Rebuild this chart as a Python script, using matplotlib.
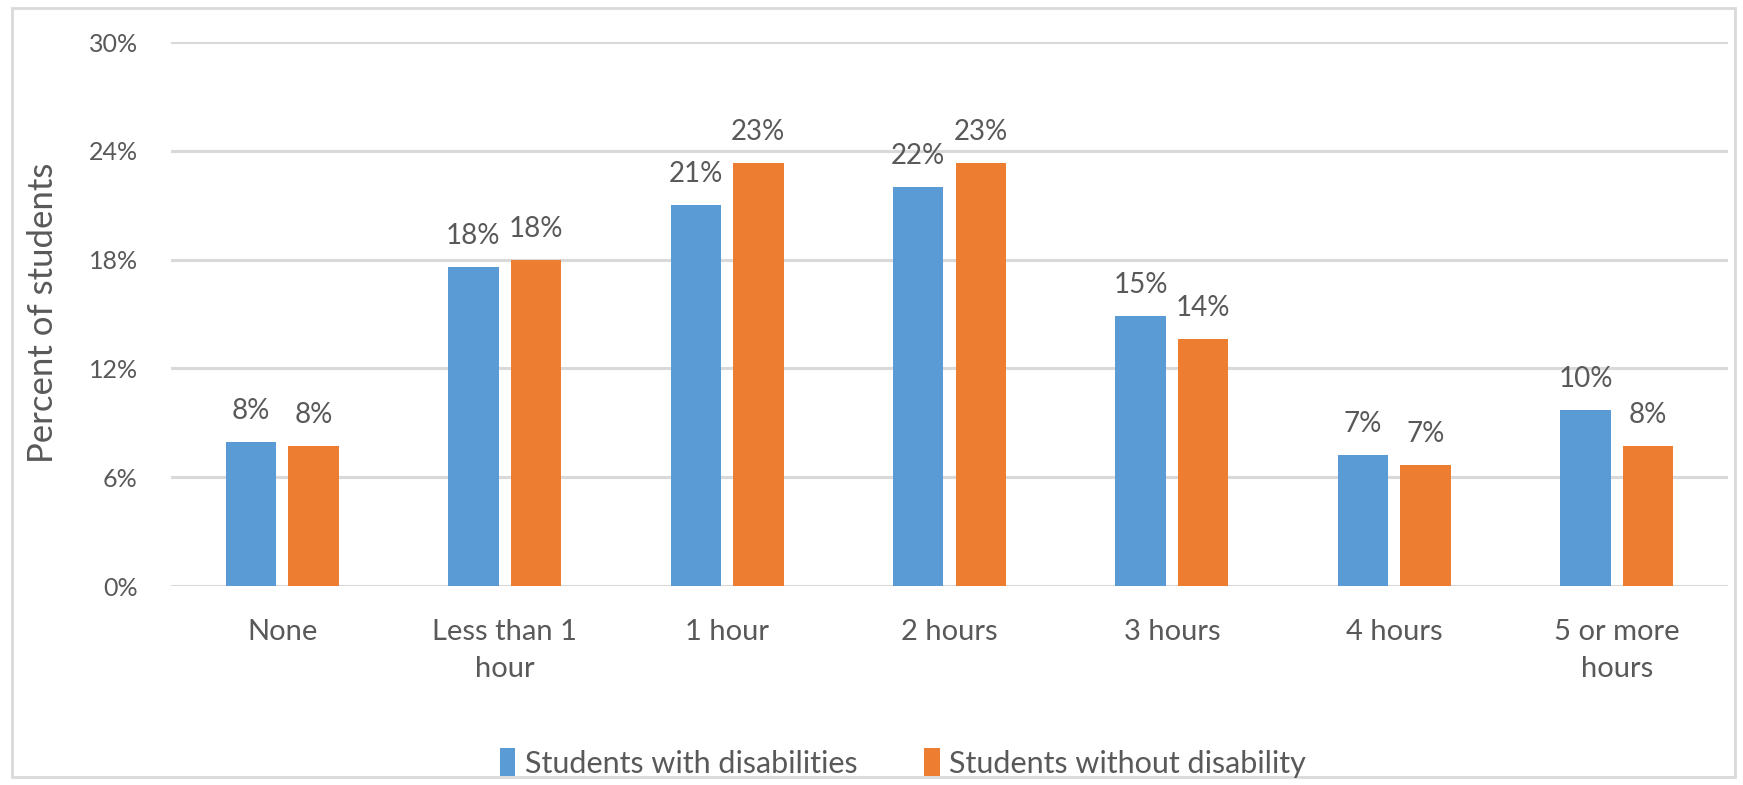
import matplotlib.pyplot as plt
import numpy as np
from matplotlib.patches import Rectangle

categories = ['None', 'Less than 1\nhour', '1 hour', '2 hours', '3 hours',
              '4 hours', '5 or more\nhours']
with_dis = [7.96, 17.6, 21.0, 22.0, 14.9, 7.2, 9.7]
without_dis = [7.7, 18.0, 23.3, 23.3, 13.6, 6.65, 7.7]
with_lbl = ['8%', '18%', '21%', '22%', '15%', '7%', '10%']
without_lbl = ['8%', '18%', '23%', '23%', '14%', '7%', '8%']
yticks = [0, 6, 12, 18, 24, 30]

txt = '#595959'
grid = '#d9d9d9'
blue = '#5b9bd5'
orange = '#ed7d31'

plt.rcParams['font.family'] = ['Lato', 'DejaVu Sans']

fig = plt.figure(figsize=(17.43, 7.85), dpi=100)
ax = fig.add_axes([171 / 1743, 1 - 586 / 785, (1728 - 171) / 1743, (586 - 42) / 785])

x = np.arange(len(categories))
w = 0.227
off = 0.1405
b1 = ax.bar(x - off, with_dis, w, color=blue, label='Students with disabilities', zorder=3)
b2 = ax.bar(x + off, without_dis, w, color=orange, label='Students without disability', zorder=3)

for bars, labels in ((b1, with_lbl), (b2, without_lbl)):
    for bar, lab in zip(bars, labels):
        ax.annotate(lab, (bar.get_x() + bar.get_width() / 2, bar.get_height()),
                    xytext=(0, 13), textcoords='offset points', ha='center',
                    va='bottom', fontsize=20, color=txt)

ax.set_xlim(-0.5, len(categories) - 0.5)
ax.set_ylim(0, 30)
ax.set_yticks(yticks)
ax.set_yticklabels([f'{v}%' for v in yticks])
ax.set_xticks(x)
ax.set_xticklabels(categories, linespacing=1.5)
ax.tick_params(axis='y', length=0, pad=24, labelsize=18, labelcolor=txt)
ax.tick_params(axis='x', length=0, pad=24, labelsize=21, labelcolor=txt)
ax.grid(axis='y', color=grid, linewidth=2.2, zorder=0)
for s in ax.spines.values():
    s.set_visible(False)

fig.text(43 / 1743, 1 - 313 / 785, 'Percent of students', rotation=90,
         ha='center', va='center', fontsize=25, color=txt)

fig.legend(loc='center', bbox_to_anchor=(903 / 1743, 1 - 763 / 785), ncol=2,
           frameon=False, fontsize=22, labelcolor=txt, handlelength=0.5,
           handleheight=1.0, handletextpad=0.3, columnspacing=2.2)

fig.patches.append(Rectangle((12 / 1743, 8 / 785), (1735 - 12) / 1743, (777 - 8) / 785,
                             transform=fig.transFigure, fill=False,
                             edgecolor=grid, linewidth=2))

fig.savefig('out.png', dpi=100, facecolor='white')
